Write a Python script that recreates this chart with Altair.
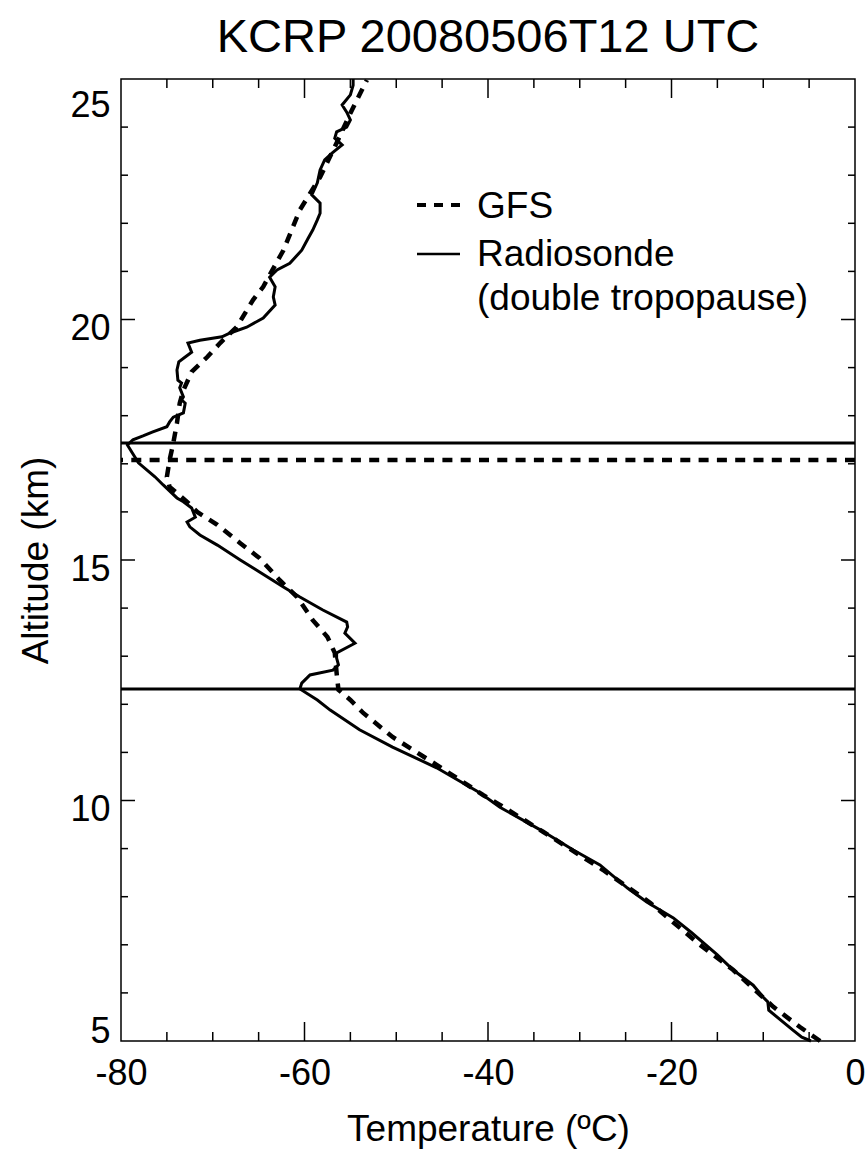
import altair as alt
import pandas as pd

title_text = "KCRP 20080506T12 UTC"
x_title = "Temperature (ºC)"
y_title = "Altitude (km)"
legend_labels = ["GFS", "Radiosonde", "(double tropopause)"]

# Radiosonde profile (temperature in degC, altitude in km), bottom to top
radio_T = [-4.8, -5.8, -6.8, -9.4, -9.5, -10.0, -11.1, -13.3, -15.0, -17.8,
           -19.8, -22.7, -24.8, -27.8, -30.7, -34.3, -38.7, -40.9, -45.6, -50.4,
           -54.0, -57.2, -58.6, -60.5, -60.3, -59.4, -56.9, -56.3, -56.5, -56.5,
           -54.5, -55.6, -55.3, -55.4, -58.0, -60.5, -62.3, -64.9, -67.0, -69.5,
           -71.4, -72.5, -72.8, -71.9, -72.3, -73.2, -73.9, -75.4, -76.3, -78.1,
           -79.3, -78.7, -77.6, -76.6, -75.0, -74.7, -74.3, -73.2, -73.0, -73.4,
           -73.2, -73.6, -73.4, -73.8, -73.9, -73.7, -73.0, -72.3, -72.7, -71.4,
           -69.0, -68.1, -66.3, -64.5, -63.2, -63.4, -63.2, -63.8, -63.0, -61.6,
           -60.3, -59.6, -59.1, -58.6, -58.3, -58.3, -59.2, -58.6, -58.3, -57.8,
           -57.0, -55.9, -56.7, -56.5, -55.4, -55.0, -55.4, -55.9, -55.0, -54.7,
           -54.7]
radio_alt = [5.0, 5.08, 5.23, 5.64, 5.81, 5.91, 6.16, 6.48, 6.79, 7.25,
             7.56, 7.89, 8.18, 8.66, 8.97, 9.39, 9.86, 10.16, 10.68, 11.11,
             11.47, 11.88, 12.09, 12.32, 12.44, 12.61, 12.71, 12.82, 12.96, 13.07,
             13.27, 13.48, 13.61, 13.71, 13.96, 14.23, 14.44, 14.75, 15.00, 15.31,
             15.52, 15.69, 15.79, 15.89, 16.08, 16.21, 16.29, 16.56, 16.73, 17.02,
             17.39, 17.50, 17.58, 17.66, 17.77, 17.87, 17.97, 18.06, 18.26, 18.33,
             18.39, 18.58, 18.68, 18.74, 18.95, 19.12, 19.22, 19.32, 19.51, 19.57,
             19.64, 19.72, 19.84, 20.03, 20.30, 20.47, 20.68, 20.88, 21.03, 21.17,
             21.44, 21.69, 21.86, 22.07, 22.21, 22.42, 22.59, 22.84, 23.11, 23.32,
             23.46, 23.63, 23.77, 23.90, 24.00, 24.15, 24.31, 24.46, 24.67, 24.87,
             25.0]

# GFS profile
gfs_T = [-3.8, -6.0, -8.9, -13.3, -16.9, -22.3, -27.5, -34.0, -38.7, -40.5,
         -45.6, -50.4, -53.6, -55.0, -56.3, -56.5, -56.7, -57.5, -59.1, -60.8,
         -62.7, -64.9, -67.0, -69.5, -71.7, -72.8, -74.7, -75.0, -74.7, -74.3,
         -73.9, -73.6, -73.2, -72.3, -70.6, -69.2, -67.4, -65.6, -64.5, -62.3,
         -60.5, -58.3, -56.5, -55.0, -53.2]
gfs_alt = [5.0, 5.29, 5.71, 6.48, 7.00, 7.87, 8.56, 9.35, 9.91, 10.11,
           10.74, 11.32, 11.82, 12.09, 12.30, 12.65, 13.07, 13.40, 13.75, 14.23,
           14.58, 15.04, 15.35, 15.73, 16.00, 16.21, 16.52, 16.73, 17.08, 17.43,
           17.85, 18.26, 18.53, 18.91, 19.22, 19.51, 19.84, 20.41, 20.68, 21.44,
           22.28, 22.96, 23.67, 24.29, 24.98]

radio_tropopause = [12.32, 17.43]
gfs_tropopause = [17.08]

x_labels = [-80, -60, -40, -20, 0]
y_labels = [5, 10, 15, 20, 25]
x_major = [-60, -40, -20]
x_minor = [-75, -70, -65, -55, -50, -45, -35, -30, -25, -15, -10, -5]
y_major = [10, 15, 20]
y_minor = [6, 7, 8, 9, 11, 12, 13, 14, 16, 17, 18, 19, 21, 22, 23, 24]

W, H = 734, 962
FONT = "Liberation Sans"
FS = 37

xs = alt.Scale(domain=[-80, 0], nice=False, zero=False)
ys = alt.Scale(domain=[5, 25], nice=False, zero=False)

xaxis = alt.Axis(values=x_labels, labelExpr="'' + datum.value", ticks=False,
                 domain=False, grid=False, labelFontSize=36, labelFont=FONT,
                 labelColor="black", labelPadding=15, labelFlush=False,
                 title=x_title, titleFont=FONT, titleFontSize=FS,
                 titleFontWeight="normal", titleColor="black", titleX=W / 2,
                 titleY=99, titleAlign="center", titleBaseline="alphabetic")
yaxis = alt.Axis(values=y_labels, labelExpr="'' + datum.value", ticks=False,
                 domain=False, grid=False, labelFontSize=36, labelFont=FONT,
                 labelColor="black", labelPadding=11, labelFlush=True,
                 labelOffset=9,
                 title=y_title, titleFont=FONT, titleFontSize=FS,
                 titleFontWeight="normal", titleColor="black", titleAngle=270,
                 titleX=-74, titleY=H / 2, titleAlign="center",
                 titleBaseline="alphabetic")

X = alt.X("T:Q", scale=xs, axis=xaxis)
Y = alt.Y("alt:Q", scale=ys, axis=yaxis)

radio_df = pd.DataFrame({"T": radio_T, "alt": radio_alt, "i": list(range(len(radio_T)))})
gfs_df = pd.DataFrame({"T": gfs_T, "alt": gfs_alt, "i": list(range(len(gfs_T)))})

radio_line = alt.Chart(radio_df).mark_line(color="black", strokeWidth=3).encode(
    x=X, y=Y, order="i:Q")
gfs_line = alt.Chart(gfs_df).mark_line(color="black", strokeWidth=4.5,
                                       strokeDash=[10, 8]).encode(
    x=X, y=Y, order="i:Q")

trop_radio = alt.Chart(pd.DataFrame({"alt": radio_tropopause})).mark_rule(
    color="black", strokeWidth=3).encode(y=Y)
trop_gfs = alt.Chart(pd.DataFrame({"alt": gfs_tropopause})).mark_rule(
    color="black", strokeWidth=4.5, strokeDash=[10, 8.3]).encode(y=Y)


def xticks(vals, length):
    df = pd.DataFrame({"T": vals})
    base = alt.Chart(df).mark_rule(color="black", strokeWidth=1.5)
    bottom = base.encode(x=X, y=alt.value(H), y2=alt.value(H - length))
    top = base.encode(x=X, y=alt.value(0), y2=alt.value(length))
    return [bottom, top]


def yticks(vals, length):
    df = pd.DataFrame({"alt": vals})
    base = alt.Chart(df).mark_rule(color="black", strokeWidth=1.5)
    left = base.encode(y=Y, x=alt.value(0), x2=alt.value(length))
    right = base.encode(y=Y, x=alt.value(W), x2=alt.value(W - length))
    return [left, right]


tick_layers = (xticks(x_major, 19) + xticks(x_minor, 9) +
               yticks(y_major, 14) + yticks(y_minor, 7))

leg_df = pd.DataFrame({"label": legend_labels})
leg_text_kw = dict(align="left", baseline="middle", fontSize=FS, font=FONT, color="black")


def leg_text(label, ypos):
    return alt.Chart(leg_df).transform_filter(alt.datum.label == label).mark_text(
        **leg_text_kw).encode(x=alt.value(356), y=alt.value(ypos), text="label:N")


leg_gfs_sym = alt.Chart(leg_df).transform_filter(
    alt.datum.label == legend_labels[0]).mark_rule(
    color="black", strokeWidth=4, strokeDash=[9, 8]).encode(
    x=alt.value(296), x2=alt.value(339), y=alt.value(126))
leg_rad_sym = alt.Chart(leg_df).transform_filter(
    alt.datum.label == legend_labels[1]).mark_rule(
    color="black", strokeWidth=2.5).encode(
    x=alt.value(296), x2=alt.value(339), y=alt.value(175))

title_df = pd.DataFrame({"label": [title_text]})
title_mark = alt.Chart(title_df).mark_text(
    align="center", baseline="alphabetic", fontSize=47, font=FONT,
    color="black").encode(x=alt.value(W / 2), y=alt.value(-27), text="label:N")

layers = [gfs_line, radio_line, trop_radio, trop_gfs] + tick_layers + [
    leg_gfs_sym, leg_rad_sym,
    leg_text(legend_labels[0], 128),
    leg_text(legend_labels[1], 176),
    leg_text(legend_labels[2], 220),
    title_mark]

chart = alt.layer(*layers).properties(
    width=W, height=H,
    autosize=alt.AutoSizeParams(type="none"),
    padding={"left": 121, "top": 79, "right": 13, "bottom": 116},
).configure_view(stroke="black", strokeWidth=1.5)

chart.save("out.html", embed_options={"renderer": "svg", "actions": False})
